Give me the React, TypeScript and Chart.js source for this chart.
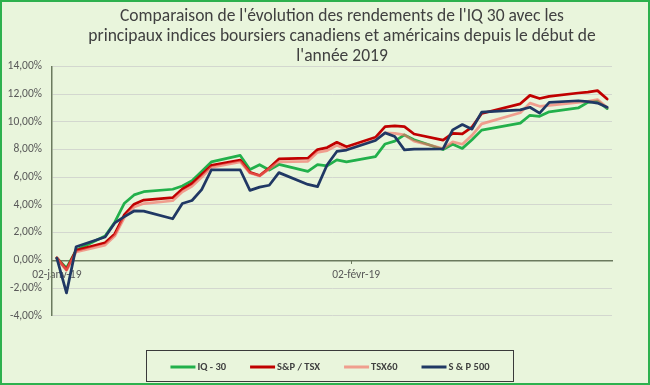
import React, { useEffect, useRef } from "react";
import { Chart, registerables } from "chart.js";

Chart.register(...registerables);

const titleLines = [
  "Comparaison de l'évolution des rendements de l'IQ 30 avec les",
  "principaux indices boursiers canadiens et américains depuis le début de",
  "l'année 2019",
];

// trading days, as calendar-day offsets from 02-janv-19
const dayOffsets = [0, 1, 2, 5, 6, 7, 8, 9, 12, 13, 14, 15, 16, 19, 20, 21, 22, 23, 26, 27, 28, 29, 30, 33, 34, 35, 36, 37, 40, 41, 42, 43, 44, 48, 49, 50, 51, 54, 55, 56, 57];

const seriesNames = ["IQ - 30", "S&P / TSX", "TSX60", "S & P 500"];

const iq30 = [0.15, -0.55, 0.72, 1.75, 2.75, 4.12, 4.72, 4.95, 5.13, 5.36, 5.75, 6.42, 7.1, 7.57, 6.55, 6.9, 6.52, 6.92, 6.42, 6.9, 6.82, 7.25, 7.1, 7.49, 8.4, 8.6, 9.05, 8.7, 8.0, 8.38, 8.08, 8.7, 9.4, 9.9, 10.47, 10.4, 10.72, 11.0, 11.4, 11.5, 10.95];
const spTsx = [0.18, -0.68, 0.72, 1.27, 1.9, 3.3, 4.05, 4.35, 4.52, 5.15, 5.55, 6.2, 6.85, 7.24, 6.35, 6.12, 6.66, 7.32, 7.37, 7.99, 8.14, 8.52, 8.2, 8.88, 9.65, 9.71, 9.65, 9.12, 8.68, 9.17, 9.12, 9.62, 10.6, 11.3, 11.91, 11.68, 11.84, 12.08, 12.15, 12.25, 11.64];
const tsx60 = [0.15, -0.72, 0.6, 1.1, 1.75, 3.1, 3.85, 4.1, 4.3, 4.95, 5.35, 6.0, 6.7, 7.1, 6.3, 6.1, 6.6, 7.1, 7.15, 7.8, 7.92, 8.3, 8.0, 8.7, 9.2, 9.17, 9.05, 8.6, 8.07, 8.55, 8.38, 9.02, 9.85, 10.65, 11.35, 11.12, 11.18, 11.4, 11.47, 11.6, 11.02];
const sp500 = [0.15, -2.35, 0.98, 1.68, 2.7, 3.15, 3.56, 3.55, 3.0, 4.1, 4.32, 5.1, 6.52, 6.52, 5.05, 5.28, 5.42, 6.33, 5.48, 5.32, 6.9, 7.86, 7.96, 8.65, 9.2, 8.94, 7.97, 8.03, 8.05, 9.42, 9.8, 9.47, 10.7, 10.86, 11.05, 10.63, 11.4, 11.52, 11.45, 11.35, 11.05];

const xTickDays = [0, 31];
const xTickLabels = ["02-janv-19", "02-févr-19"];
const xMajorTickDays = [30.5];
const xRange = [-0.5, 57.5];
const yRange = [-4, 14];
const yStep = 2;

const FONT = '"Liberation Sans Narrow", Carlito, "Liberation Sans", sans-serif';
const colors = ["#22b04b", "#c00000", "rgba(245,110,100,0.65)", "#203864"];
const drawOrder = [3, 2, 1, 0];

const toPoints = (vals: number[]) => vals.map((v, i) => ({ x: dayOffsets[i], y: v }));

const backgroundPlugin = {
  id: "bg",
  beforeDraw(chart: any) {
    const { ctx, width, height } = chart;
    ctx.save();
    ctx.fillStyle = "#e9f5dc";
    ctx.fillRect(0, 0, width, height);
    ctx.strokeStyle = "#2db14e";
    ctx.lineWidth = 2;
    ctx.strokeRect(1, 1, width - 2, height - 2);
    ctx.restore();
  },
};

const titlePlugin = {
  id: "titleLines",
  afterDraw(chart: any) {
    const { ctx } = chart;
    ctx.save();
    ctx.fillStyle = "#404040";
    ctx.font = `17.5px ${FONT}`;
    ctx.textAlign = "center";
    ctx.textBaseline = "alphabetic";
    titleLines.forEach((t, i) => ctx.fillText(t, 342, 21 + i * 20));
    ctx.restore();
  },
};

const tickMarkPlugin = {
  id: "tickMarks",
  afterDraw(chart: any) {
    const { ctx } = chart;
    const xs = chart.scales.x;
    const ys = chart.scales.y;
    const y0 = Math.round(ys.getPixelForValue(0));
    ctx.save();
    ctx.strokeStyle = "#6b7a5e";
    ctx.lineWidth = 1;
    xMajorTickDays.forEach((d) => {
      const x = Math.round(xs.getPixelForValue(d)) + 0.5;
      ctx.beginPath();
      ctx.moveTo(x, y0);
      ctx.lineTo(x, y0 + 4);
      ctx.stroke();
    });
    ctx.restore();
  },
};

const legendPlugin = {
  id: "boxLegend",
  afterDraw(chart: any) {
    const { ctx } = chart;
    const box = { x: 146.5, y: 350.5, w: 367, h: 31 };
    ctx.save();
    ctx.strokeStyle = "#3a3a3a";
    ctx.lineWidth = 1;
    ctx.strokeRect(box.x, box.y, box.w, box.h);
    ctx.font = `bold 10.5px ${FONT}`;
    const sw = 25;
    const gapText = 2;
    const gapItem = 24;
    const widths = seriesNames.map((n) => ctx.measureText(n).width);
    const total = widths.reduce((a, w) => a + sw + gapText + w, 0) + gapItem * (seriesNames.length - 1);
    let x = box.x + box.w / 2 - total / 2;
    const cy = box.y + box.h / 2 + 1;
    seriesNames.forEach((n, i) => {
      ctx.strokeStyle = colors[i];
      ctx.lineWidth = 3;
      ctx.beginPath();
      ctx.moveTo(x, cy);
      ctx.lineTo(x + sw, cy);
      ctx.stroke();
      ctx.fillStyle = "#404040";
      ctx.textAlign = "left";
      ctx.textBaseline = "middle";
      ctx.fillText(n, x + sw + gapText, cy);
      x += sw + gapText + widths[i] + gapItem;
    });
    ctx.restore();
  },
};

export default function App() {
  const ref = useRef<HTMLCanvasElement | null>(null);
  useEffect(() => {
    if (!ref.current) return;
    const series = [iq30, spTsx, tsx60, sp500];
    const chart = new Chart(ref.current, {
      type: "line",
      data: {
        datasets: series.map((vals, i) => ({
          label: seriesNames[i],
          data: toPoints(vals),
          borderColor: colors[i],
          backgroundColor: colors[i],
          borderWidth: 2.75,
          pointRadius: 0,
          tension: 0,
          fill: false,
          order: drawOrder[i],
          borderJoinStyle: "round",
          borderCapStyle: "round",
        })),
      },
      options: {
        animation: false,
        responsive: false,
        devicePixelRatio: 1,
        layout: { padding: { left: 0, right: 38, top: 66.4, bottom: 69.3 } },
        plugins: {
          legend: { display: false },
          title: { display: false },
          tooltip: { enabled: false },
        },
        scales: {
          x: {
            type: "linear",
            min: xRange[0],
            max: xRange[1],
            position: { y: 0 },
            grid: { display: true, color: "rgba(0,0,0,0)", drawTicks: false },
            border: { display: true, color: "#6b7a5e", width: 1.5 },
            afterBuildTicks: (s: any) => {
              s.ticks = xTickDays.map((v) => ({ value: v }));
            },
            ticks: {
              autoSkip: false,
              maxRotation: 0,
              padding: 8,
              color: "#595959",
              font: { family: FONT, size: 11.5 },
              callback: (v: any) => {
                const i = xTickDays.indexOf(Number(v));
                return i >= 0 ? xTickLabels[i] : "";
              },
            },
          },
          y: {
            min: yRange[0],
            max: yRange[1],
            grid: { color: "#d3d7cf", lineWidth: 1, drawTicks: false },
            border: { display: true, color: "#6b7a5e", width: 1.5 },
            afterFit: (s: any) => {
              s.width = 52;
            },
            ticks: {
              stepSize: yStep,
              padding: 10,
              color: "#595959",
              font: { family: FONT, size: 11.5 },
              callback: (v: any) => Number(v).toFixed(2).replace(".", ",") + "%",
            },
          },
        },
      } as any,
      plugins: [backgroundPlugin, titlePlugin, tickMarkPlugin, legendPlugin],
    });
    return () => chart.destroy();
  }, []);
  return (
    <div style={{ position: "fixed", left: 0, top: 0, width: 650, height: 385 }}>
      <canvas ref={ref} width={650} height={385} style={{ width: 650, height: 385, display: "block" }} />
    </div>
  );
}
